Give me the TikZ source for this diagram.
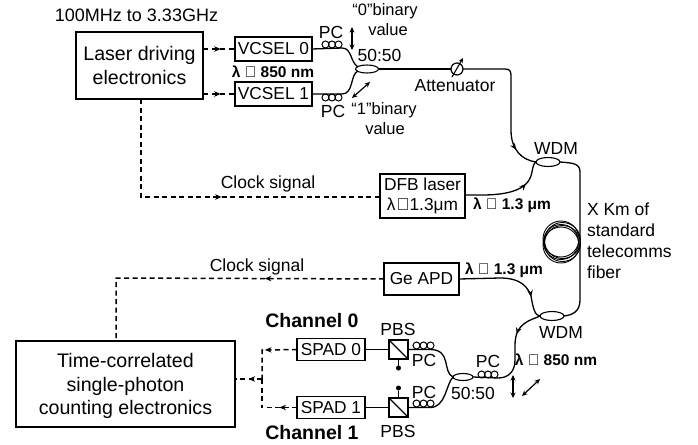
\documentclass[tikz,border=0pt]{standalone}
\usepackage{fontspec}
\setmainfont{Liberation Sans}
\usetikzlibrary{arrows.meta,decorations.markings,shapes.geometric}
\newcommand{\fs}[1]{\fontsize{#1}{#1}\selectfont}
\tikzset{
  x=1pt,y=-1pt,
  every node/.style={inner sep=0pt,outer sep=0pt,text=black},
  lbl/.style={font=\fs{17.5},align=center},
  blbl/.style={font=\fs{15.5}\bfseries},
  chan/.style={font=\fs{19.5}\bfseries},
  smallbox/.style={draw,line width=1.2pt,minimum width=#1,font=\fs{17.3}},
  bigbox/.style={draw,line width=2.8pt,font=\fs{19.6},align=center,text depth=0pt},
  coupler/.style={draw,ellipse,line width=1.1pt,fill=white},
  fiber/.style={line width=1.3pt},
  sig/.style={line width=1.5pt,dash pattern=on 5pt off 3.5pt},
  tip/.style={postaction={decorate,decoration={markings,mark=at position #1 with {\arrow{Stealth[length=6.5pt,width=5.5pt]}}}}},
  pol/.style={line width=1.2pt,{Stealth[length=5.5pt,width=5pt]}-{Stealth[length=5.5pt,width=5pt]}},
  coilring/.style={draw,circle,line width=1pt,minimum size=#1},
  dot/.style={circle,fill=black,minimum size=5pt}
}
\newcommand{\pccoil}[3]{% left x, y centre, ring spacing
  \foreach \k in {0,1,2}{\draw[line width=1pt] ({#1+3.5+\k*#3},#2) circle (3.5);}
}
\begin{document}
\begin{tikzpicture}
\useasboundingbox (0,0) rectangle (698,444);
% boxes
\node[bigbox,minimum width=127pt,minimum height=67pt] (laser) at (139.5,65.5) {Laser driving\\[4pt]electronics};
\node[bigbox,minimum width=219pt,minimum height=86pt] (tcspc) at (125.5,384) {Time-correlated\\[4pt]single-photon\\[4pt]counting electronics};
\node[smallbox=77pt,minimum height=24pt] (v0) at (273.5,49) {VCSEL 0};
\node[smallbox=77pt,minimum height=24pt] (v1) at (273.5,94) {VCSEL 1};
\node[smallbox=85pt,minimum height=44pt,align=center] (dfb) at (422.5,196) {DFB laser\\[3pt]λ\kern1pt{\char"223C}1.3μm};
\node[smallbox=75pt,minimum height=32pt] (ge) at (421.5,279) {Ge APD};
\node[smallbox=68pt,minimum height=22pt] (s0) at (331,349.5) {SPAD 0};
\node[smallbox=68pt,minimum height=22pt] (s1) at (331,407.5) {SPAD 1};
\node[draw,line width=1.2pt,minimum size=19pt] (p0) at (398.5,349.5) {};
\node[draw,line width=1.2pt,minimum size=19pt] (p1) at (398.5,407.5) {};
\draw[line width=1.1pt] (p0.north west) -- (p0.south east);
\draw[line width=1.1pt] (p1.north west) -- (p1.south east);
\node[dot] (d0) at (398.5,368) {};
\node[dot] (d1) at (398.5,388) {};
\draw[line width=1.1pt] (p0.south) -- (d0);
\draw[line width=1.1pt] (p1.north) -- (d1);
% couplers
\node[coupler,minimum width=23pt,minimum height=8pt] (c1) at (367,69) {};
\node[coupler,minimum width=24pt,minimum height=9pt] (w1) at (548,162) {};
\node[coupler,minimum width=24pt,minimum height=9pt] (w2) at (552,316) {};
\node[coupler,minimum width=20pt,minimum height=7pt] (c2) at (463,377) {};
% attenuator
\node[draw,circle,line width=1.2pt,minimum size=12pt,fill=white] (att) at (457,69) {};
% coordinates
\coordinate (j) at (262,379);
\coordinate (jt) at (262,350);
\coordinate (jb) at (262,407.5);
\coordinate (ck1) at (141,197);
\coordinate (ck2) at (116,278);
% dashed signals
\draw[sig,tip=0.55] (laser.east |- v0) -- (v0.west);
\draw[sig,tip=0.55] (laser.east |- v1) -- (v1.west);
\draw[sig,tip=0.53] (laser.south -| ck1) -- (ck1) -- (dfb.west |- ck1);
\draw[sig,tip=0.36] (ge.west) -- (ck2) -- (tcspc.north -| ck2);
\draw[sig,tip=0.5] (s0.west) -- (jt) -- (j);
\draw[sig] (j) -- (jb);
\draw[sig,tip=0.5] (s1.west) -- (jb);
\draw[sig,tip=0.5] (j) -- (tcspc.east |- j);
% fibers top
\draw[fiber] (v0.east) -- (342,48) .. controls (352,48) and (350,62) .. (358,67);
\draw[fiber] (v1.east) -- (342,94) .. controls (354,94) and (350,74) .. (358,71);
\draw[fiber] (c1.east) -- (att.west);
\draw[fiber,tip=0.84] (att.east) -- (505,69) .. controls (511,69) and (511,72) .. (511,78) -- (511,130)
   .. controls (511,150) and (522,160) .. (w1.west);
\draw[fiber,tip=0.72] (dfb.east |- 0,195) -- (482,195) .. controls (518,195) and (530,185) .. (532,172) .. controls (533,166) and (534,163) .. (w1.west);
\draw[fiber] (w1.east) .. controls (572,163) and (580,163) .. (580,172) -- (580,300) .. controls (580,312) and (572,315) .. (w2.east);
\draw[fiber,tip=0.78] (ge.east) -- (500,278) .. controls (522,278) and (528,288) .. (531,296) .. controls (533,308) and (535,316) .. (w2.west);
\draw[fiber,tip=0.28] (w2.west) .. controls (532,320) and (515,322) .. (515,345) -- (515,360) .. controls (515,372) and (508,378) .. (498,378) -- (c2.east);
% fibers bottom
\draw[fiber] (s0.east) -- (p0.west);
\draw[fiber] (s1.east) -- (p1.west);
\draw[fiber] (p0.east) -- (430,349.5) .. controls (452,349.5) and (442,372) .. (c2.west);
\draw[fiber] (p1.east) -- (430,407.5) .. controls (446,407.5) and (446,384) .. (c2.west);
% PC coils
\pccoil{322}{44.5}{6.5}
\pccoil{322}{97.5}{6.5}
\pccoil{413}{345.5}{7}
\pccoil{413}{403.5}{7}
\pccoil{478}{374.5}{6.5}
% attenuator slash
\draw[line width=1.1pt,-{Stealth[length=5pt,width=4.5pt]}] (452,77) -- (463,58);
% fibre spool
\foreach \dx/\dy/\r in {0/0/17.5,0/-3/18,0/3/18,1.5/-1.5/18,1.5/1.5/18}{
  \draw[line width=.9pt] (561+\dx,242+\dy) circle (\r);
}
% polarisation arrows
\draw[pol] (352,27) -- (352,50);
\draw[pol] (352,98) -- (370,82);
\draw[pol] (513,375) -- (513,398);
\draw[pol] (522,396) -- (540,379);
% labels
\node[lbl,font=\fs{18}] (t1) at (136.5,15) {100MHz to 3.33GHz};
\node[lbl] (t2) at (331,32) {PC};
\node[lbl] (t3) at (333,111) {PC};
\node[lbl,font=\fs{16.5}] (t4) at (385,11) {“0”binary};
\node[lbl,font=\fs{16.5}] (t5) at (388,30) {value};
\node[lbl,font=\fs{16.5}] (t6) at (384,110) {“1”binary};
\node[lbl,font=\fs{16.5}] (t7) at (385,129) {value};
\node[lbl] (t8) at (379.5,55.5) {50:50};
\node[blbl] (t9) at (273,72) {λ {\mdseries\char"223C} 850 nm};
\node[lbl] (t10) at (455,86) {Attenuator};
\node[lbl] (t11) at (556,148) {WDM};
\node[lbl] (t12) at (561,332) {WDM};
\node[lbl] (t13) at (268,184) {Clock signal};
\node[lbl] (t14) at (257,267) {Clock signal};
\node[blbl] (t15) at (512,205) {λ {\mdseries\char"223C} 1.3 μm};
\node[blbl] (t16) at (504,270) {λ {\mdseries\char"223C} 1.3 μm};
\node[blbl] (t17) at (556,359.5) {λ {\mdseries\char"223C} 850 nm};
\node[lbl,anchor=west,align=left] (t18) at (587,241) {X Km of\\[3.5pt]standard\\[3.5pt]telecomms\\[3.5pt]fiber};
\node[chan] (t19) at (312,321) {Channel 0};
\node[chan] (t20) at (312,433) {Channel 1};
\node[lbl] (t21) at (398,329) {PBS};
\node[lbl] (t22) at (398,431) {PBS};
\node[lbl] (t23) at (424,360) {PC};
\node[lbl] (t24) at (424,392) {PC};
\node[lbl] (t25) at (488,361) {PC};
\node[lbl] (t26) at (473,393) {50:50};
\end{tikzpicture}
\end{document}
